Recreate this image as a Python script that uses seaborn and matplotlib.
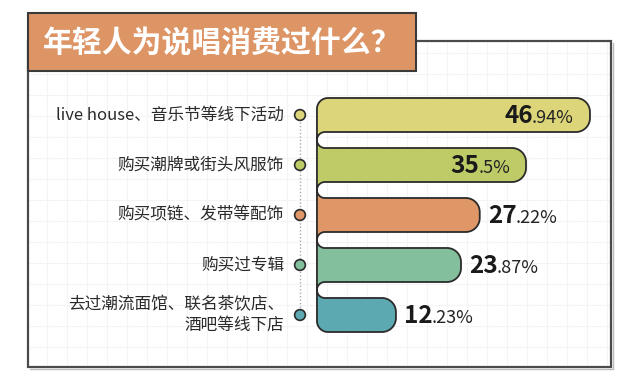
import matplotlib
matplotlib.use("Agg")
import matplotlib.pyplot as plt
import matplotlib.transforms as mtransforms
from matplotlib.path import Path
from matplotlib.patches import PathPatch, Rectangle
import numpy as np
import seaborn as sns

# ---------------- data ----------------
title = "年轻人为说唱消费过什么？"
categories = [
    "live house、音乐节等线下活动",
    "购买潮牌或街头风服饰",
    "购买项链、发带等配饰",
    "购买过专辑",
    "去过潮流面馆、联名茶饮店、\n酒吧等线下店",
]
values = [46.94, 35.5, 27.22, 23.87, 12.23]
int_labels = ["46", "35", "27", "23", "12"]
dec_labels = [".94%", ".5%", ".22%", ".87%", ".23%"]
colors = ["#DDD57A", "#BECB67", "#DF9767", "#83BF9C", "#5CA9B1"]

# ---------------- style ----------------
sns.set_style("white")
plt.rcParams["font.family"] = ["Noto Sans CJK SC", "DejaVu Sans"]

W, H = 640, 391
fig = plt.figure(figsize=(6.4, 3.91), dpi=100)
fig.patch.set_facecolor("white")

# background axes in pixel units
bg = fig.add_axes([0, 0, 1, 1])
bg.set_xlim(0, W)
bg.set_ylim(H, 0)
bg.set_axis_off()
bg.set_zorder(0)

FX0, FY0, FX1, FY1 = 28, 41, 611, 367
bg.vlines(np.arange(47, FX1, 20), FY0, FY1, color="#F4F4F4", lw=0.8, zorder=0)
bg.hlines(np.arange(53, FY1, 21), FX0, FX1, color="#F4F4F4", lw=0.8, zorder=0)
# soft shadow on right / bottom
bg.plot([FX0 + 2, FX1 + 2, FX1 + 2], [FY1 + 2, FY1 + 2, FY0 + 2], color="#BBBBBB",
        lw=1.0, zorder=1)
bg.add_patch(Rectangle((FX0, FY0), FX1 - FX0, FY1 - FY0, fill=False,
                       ec="#4A4A4A", lw=1.6, zorder=2))
bg.add_patch(Rectangle((28, 13), 388, 58, fc="#DE9566", ec="#3A3A3A", lw=1.5, zorder=3))
bg.text(222, 43, title, color="white", fontsize=21.5, fontweight="bold",
        ha="center", va="center", zorder=4)

# data axes
ax = fig.add_axes([0, 0, 1, 1])
ax.patch.set_alpha(0)
ax.set_zorder(1)
sns.barplot(x=values, y=categories, hue=categories, palette=colors, legend=False,
            orient="h", width=0.68, saturation=1, ax=ax)

X0, X1 = -58.6, 55.89
Y0, Y1 = 5.52, -2.3
ax.set_xlim(X0, X1)
ax.set_ylim(Y0, Y1)
ax.set_axis_off()
KX = W / (X1 - X0)
KY = H / (Y0 - Y1)

S = -1.9            # left spine (data x)
RC = 11.0           # outer left corner radius px
RG = 8.0            # gap half-height px
RR = 14.0           # right corner radius px


def arc(cx, cy, r, t0, t1, n=16):
    t = np.radians(np.linspace(t0, t1, n))
    return list(zip(cx + r * np.cos(t) / KX, cy + r * np.sin(t) / KY))


bars = sorted([p for p in ax.patches], key=lambda p: p.get_y())
nb = len(bars)
info = []
for i, p in enumerate(bars):
    top = p.get_y()
    bot = top + p.get_height()
    yc = (top + bot) / 2
    val = p.get_width()
    fc = p.get_facecolor()
    p.set_visible(False)
    pts = []
    if i == 0:
        pts += arc(S + RC / KX, top + RC / KY, RC, 180, 270)
    else:
        pts += arc(S + RG / KX, top - RG / KY, RG, 180, 90)
    pts += arc(val - RR / KX, top + RR / KY, RR, 270, 360)
    pts += arc(val - RR / KX, bot - RR / KY, RR, 0, 90)
    if i == nb - 1:
        pts += arc(S + RC / KX, bot - RC / KY, RC, 90, 180)
    else:
        pts += arc(S + RG / KX, bot + RG / KY, RG, 270, 180)
    pts.append(pts[0])
    codes = [Path.MOVETO] + [Path.LINETO] * (len(pts) - 2) + [Path.CLOSEPOLY]
    ax.add_patch(PathPatch(Path(pts, codes), fc=fc, ec="#2B2B2B", lw=1.3, zorder=3))
    info.append((yc, val, fc))

# labels, dots and dotted connector (x in pixels, y in data)
trans = mtransforms.blended_transform_factory(bg.transData, ax.transData)
ys = [d[0] for d in info]
ax.plot([300, 300], [ys[0], ys[-1]], transform=trans, ls=(0, (1, 1.5)),
        color="#AAAAAA", lw=1.0, zorder=2)
ax.scatter([300] * nb, ys, s=60, c=[d[2] for d in info], edgecolors="#2B2B2B",
           linewidths=1.2, transform=trans, zorder=4)
for (yc, val, fc), lab in zip(info, categories):
    ax.text(284, yc, lab, transform=trans, ha="right", va="center",
            multialignment="right", fontsize=12, color="#2A2A2A", linespacing=1.35)

# value labels
fig.canvas.draw()
renderer = fig.canvas.get_renderer()
numfont = ["Noto Sans CJK SC", "DejaVu Sans"]
INT_FS, DEC_FS = 17.5, 13
for i, ((yc, val, fc), il, dl) in enumerate(zip(info, int_labels, dec_labels)):
    if val > 30:
        d = ax.annotate(dl, (val, yc), xytext=(-16, -8), textcoords="offset pixels",
                        ha="right", va="baseline", fontsize=DEC_FS, color="#222222",
                        family=numfont, zorder=5)
        wd = d.get_window_extent(renderer).width
        ax.annotate(il, (val, yc), xytext=(-15 - wd, -8), textcoords="offset pixels",
                    ha="right", va="baseline", fontsize=INT_FS, fontweight=600,
                    color="#1A1A1A", family=numfont, zorder=5)
    else:
        t = ax.annotate(il, (val, yc), xytext=(8, -8), textcoords="offset pixels",
                        ha="left", va="baseline", fontsize=INT_FS, fontweight=600,
                        color="#1A1A1A", family=numfont, zorder=5)
        wi = t.get_window_extent(renderer).width
        ax.annotate(dl, (val, yc), xytext=(7 + wi, -8), textcoords="offset pixels",
                    ha="left", va="baseline", fontsize=DEC_FS, color="#222222",
                    family=numfont, zorder=5)

fig.savefig("out.png", dpi=100)
